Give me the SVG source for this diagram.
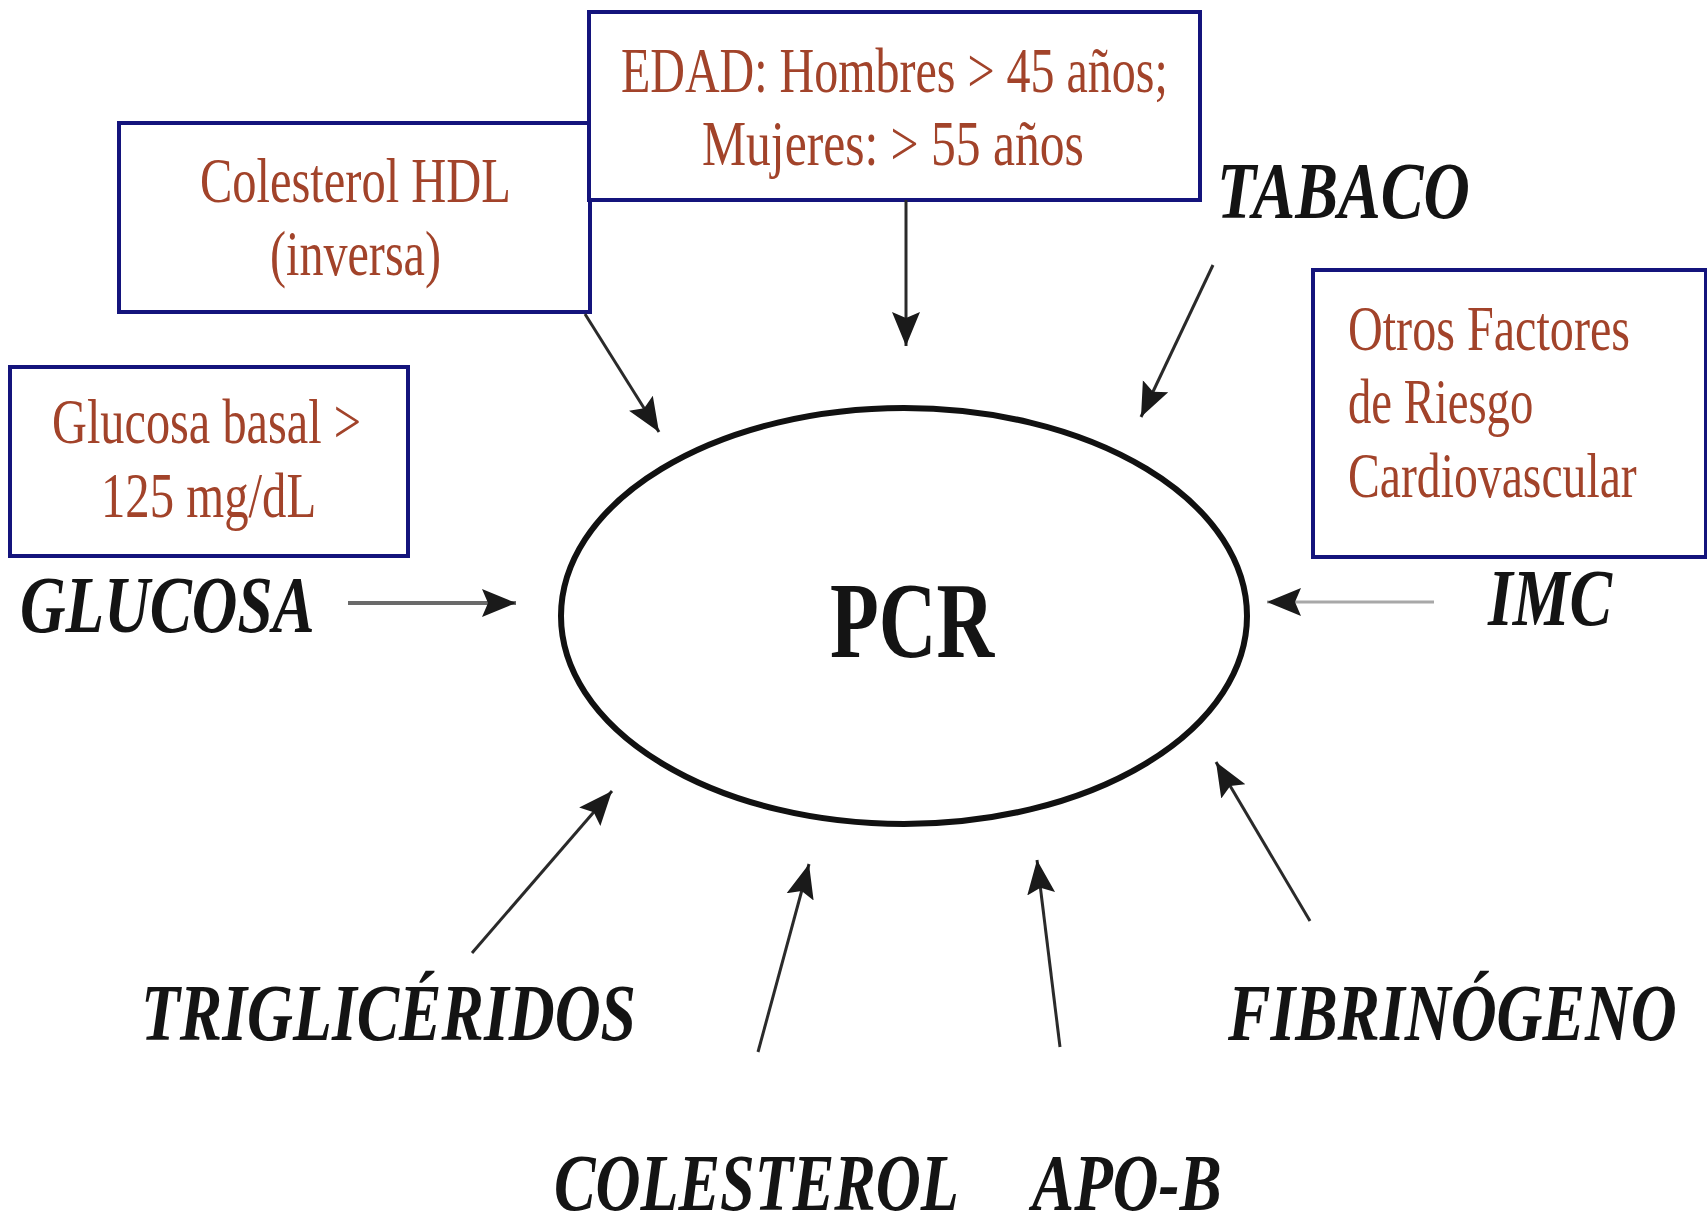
<svg xmlns="http://www.w3.org/2000/svg" width="1707" height="1228" viewBox="0 0 1707 1228">
  <style>
    .box { fill: #ffffff; stroke: #14147c; stroke-width: 4; }
    .boxtxt { font-family: "Liberation Serif", "Times New Roman", serif; font-size: 64px; fill: #a2432a; }
    .lbl { font-family: "Liberation Serif", "Times New Roman", serif; font-size: 80px; font-weight: bold; font-style: italic; fill: #141414; }
    .core { font-family: "Liberation Serif", "Times New Roman", serif; font-size: 108px; font-weight: bold; fill: #141414; }
    .link { stroke: #2a2a2a; stroke-width: 3; fill: none; marker-end: url(#head); }
  </style>
  <defs>
    <marker id="head" markerUnits="userSpaceOnUse" markerWidth="36" markerHeight="30" refX="34" refY="15" orient="auto">
      <path d="M0,1 L34,15 L0,29 L6,15 z" fill="#1a1a1a"/>
    </marker>
  </defs>
  <rect width="1707" height="1228" fill="#ffffff"/>

  <!-- central node -->
  <g id="pcr">
    <ellipse cx="904" cy="616" rx="343" ry="208" fill="none" stroke="#111111" stroke-width="6"/>
    <text class="core" transform="translate(830,657) scale(0.76,1)" textLength="216" lengthAdjust="spacingAndGlyphs">PCR</text>
  </g>

  <!-- boxed risk factors -->
  <g id="hdl">
    <rect class="box" x="119" y="123" width="471" height="189"/>
    <text class="boxtxt" transform="translate(200,202) scale(0.76,1)" textLength="409" lengthAdjust="spacingAndGlyphs">Colesterol HDL</text>
    <text class="boxtxt" transform="translate(270,275) scale(0.76,1)" textLength="225" lengthAdjust="spacingAndGlyphs">(inversa)</text>
  </g>
  <g id="edad">
    <rect class="box" x="589" y="12" width="611" height="188"/>
    <text class="boxtxt" transform="translate(621,92) scale(0.75,1)" textLength="729" lengthAdjust="spacingAndGlyphs">EDAD: Hombres &gt; 45 años;</text>
    <text class="boxtxt" transform="translate(702,165) scale(0.75,1)" textLength="509" lengthAdjust="spacingAndGlyphs">Mujeres: &gt; 55 años</text>
  </g>
  <g id="glucosa-basal">
    <rect class="box" x="10" y="367" width="398" height="189"/>
    <text class="boxtxt" transform="translate(52,443) scale(0.75,1)" textLength="412" lengthAdjust="spacingAndGlyphs">Glucosa basal &gt;</text>
    <text class="boxtxt" transform="translate(101,517) scale(0.75,1)" textLength="287" lengthAdjust="spacingAndGlyphs">125 mg/dL</text>
  </g>
  <g id="otros">
    <rect class="box" x="1313" y="270" width="393" height="287"/>
    <text class="boxtxt" transform="translate(1348,350) scale(0.75,1)" textLength="376" lengthAdjust="spacingAndGlyphs">Otros Factores</text>
    <text class="boxtxt" transform="translate(1348,423) scale(0.75,1)" textLength="247" lengthAdjust="spacingAndGlyphs">de Riesgo</text>
    <text class="boxtxt" transform="translate(1348,497) scale(0.75,1)" textLength="385" lengthAdjust="spacingAndGlyphs">Cardiovascular</text>
  </g>

  <!-- plain factor labels -->
  <g id="tabaco"><text class="lbl" transform="translate(1217,218) scale(0.79,1)" textLength="320" lengthAdjust="spacingAndGlyphs">TABACO</text></g>
  <g id="imc"><text class="lbl" transform="translate(1488,625) scale(0.79,1)" textLength="157" lengthAdjust="spacingAndGlyphs">IMC</text></g>
  <g id="glucosa"><text class="lbl" transform="translate(20,632) scale(0.79,1)" textLength="373" lengthAdjust="spacingAndGlyphs">GLUCOSA</text></g>
  <g id="trigliceridos"><text class="lbl" transform="translate(141,1040) scale(0.75,1)" textLength="660" lengthAdjust="spacingAndGlyphs">TRIGLICÉRIDOS</text></g>
  <g id="fibrinogeno"><text class="lbl" transform="translate(1228,1040) scale(0.8,1)" textLength="561" lengthAdjust="spacingAndGlyphs">FIBRINÓGENO</text></g>
  <g id="colesterol"><text class="lbl" transform="translate(554,1210) scale(0.78,1)" textLength="519" lengthAdjust="spacingAndGlyphs">COLESTEROL</text></g>
  <g id="apob"><text class="lbl" transform="translate(1032,1210) scale(0.79,1)" textLength="240" lengthAdjust="spacingAndGlyphs">APO-B</text></g>

  <!-- arrows pointing into PCR -->
  <g id="connectors">
    <line class="link" x1="906" y1="200" x2="906" y2="346"/>
    <line class="link" x1="585" y1="314" x2="659" y2="432"/>
    <line class="link" x1="1213" y1="265" x2="1141" y2="417"/>
    <line class="link" x1="1434" y1="602" x2="1267" y2="602" style="stroke:#a8a8a8"/>
    <line class="link" x1="348" y1="603" x2="516" y2="603" style="stroke:#6a6a6a;stroke-width:4"/>
    <line class="link" x1="472" y1="953" x2="612" y2="791"/>
    <line class="link" x1="758" y1="1052" x2="809" y2="864"/>
    <line class="link" x1="1060" y1="1047" x2="1037" y2="860"/>
    <line class="link" x1="1310" y1="921" x2="1216" y2="762"/>
  </g>
</svg>
